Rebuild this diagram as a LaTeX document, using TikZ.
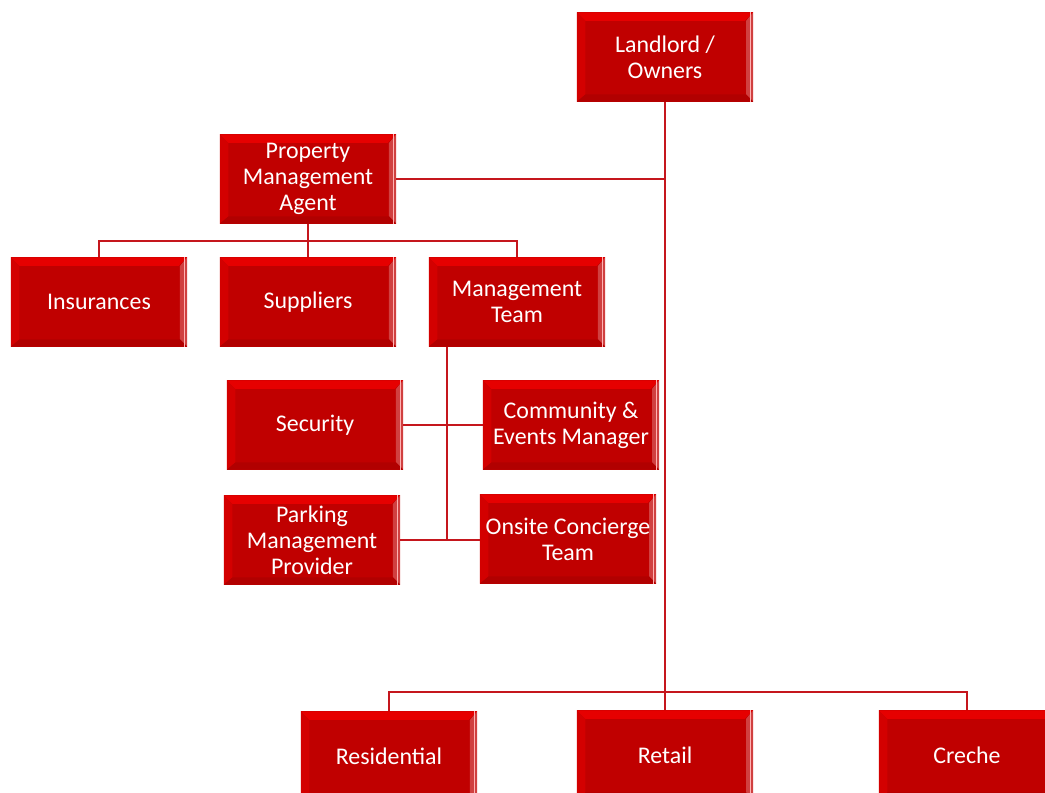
\documentclass[tikz,border=0pt]{standalone}
\usepackage{fontspec}
\setmainfont{Carlito}
\usetikzlibrary{positioning}
\definecolor{boxred}{HTML}{C00000}
\definecolor{linered}{HTML}{C5161D}

\begin{document}
\begin{tikzpicture}[x=0.025cm, y=-0.025cm]
  \tikzstyle{bevel} = [path picture={
    \coordinate (nw) at (path picture bounding box.north west);
    \coordinate (se) at (path picture bounding box.south east);
    \fill[red!60!boxred] (nw) -- (nw-|se) -- ([xshift=-6pt,yshift=-6pt]nw-|se) -- ([xshift=6pt,yshift=-6pt]nw) -- cycle;
    \fill[red!30!boxred] (nw) -- (nw|-se) -- ([xshift=6pt,yshift=5pt]nw|-se) -- ([xshift=6pt,yshift=-6pt]nw) -- cycle;
    \fill[boxred!75!white] (se) -- (nw-|se) -- ([xshift=-5pt,yshift=-6pt]nw-|se) -- ([xshift=-5pt,yshift=5pt]se) -- cycle;
    \fill[boxred!92!black] (se) -- (nw|-se) -- ([xshift=6pt,yshift=5pt]nw|-se) -- ([xshift=-5pt,yshift=5pt]se) -- cycle;
    \draw[white!70!red, line width=0.8pt] ([xshift=-1.5pt]nw-|se) -- ([xshift=-1.5pt]se);}]
  \tikzstyle{box} = [rectangle, minimum height=2.225cm, minimum width=4.4cm, fill=boxred, bevel, text=white, align=center, font=\fontsize{17}{18.4}\selectfont, inner sep=2pt]
  \tikzstyle{line} = [draw, linered, line width=2pt]
  \useasboundingbox (0,0) rectangle (1045,793);
  % Place nodes
  \node [box] (owner) at (665,57) {Landlord /\\Owners};
  \node [box] (agent) at (308,179) {Property\\Management\\Agent};
  \node [box] (insure) at (99,302) {Insurances};
  \node [box] (supply) at (308,302) {Suppliers};
  \node [box] (team) at (517,302) {Management\\Team};
  \node [box] (secure) at (315,425) {Security};
  \node [box] (events) at (571,425) {Community \&\\Events Manager};
  \node [box] (parking) at (312,540) {Parking\\Management\\Provider};
  \node [box] (concierge) at (568,539) {Onsite Concierge\\Team};
  \node [box] (resi) at (389,756) {Residential};
  \node [box] (retail) at (665,755) {Retail};
  \node [box] (creche) at (967,755) {Creche};

  % bus points
  \coordinate (bus) at (665,692);
  \coordinate (agentbus) at (308,241);
  \coordinate (teambus) at (447,540);

  \path [line] (owner) -- (bus);
  \path [line] (agent) -- (agent -| owner);
  \path [line] (bus) -| (resi);
  \path [line] (bus) -- (retail);
  \path [line] (bus) -| (creche);
  \path [line] (agent) -- (agentbus);
  \path [line] (agentbus) -| (insure);
  \path [line] (agentbus) -- (supply.north);
  \path [line] (agentbus) -| (team);
  \path [line] (team.south -| teambus) -- (teambus);
  \path [line] (secure) -- (events);
  \path [line] (parking) -- (concierge.west |- parking);
\end{tikzpicture}
\end{document}
